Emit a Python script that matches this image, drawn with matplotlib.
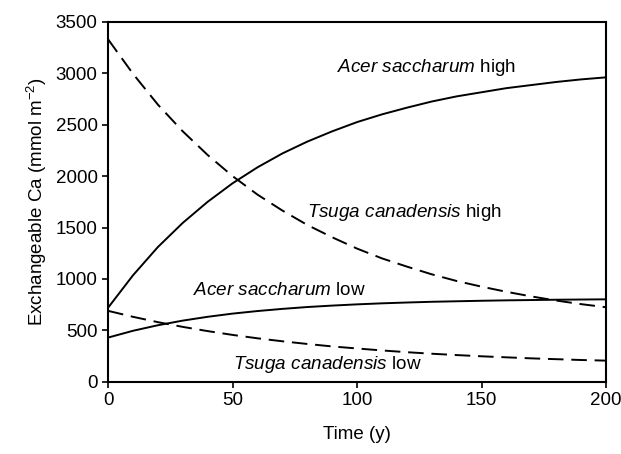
import matplotlib.pyplot as plt

plt.rcParams['font.family'] = ['Liberation Sans', 'DejaVu Sans']
plt.rcParams['mathtext.fontset'] = 'custom'
plt.rcParams['mathtext.rm'] = 'Liberation Sans'
plt.rcParams['mathtext.it'] = 'Liberation Sans:italic'

# Time (years)
t = [0, 10, 20, 30, 40, 50, 60, 70, 80, 90, 100,
     110, 120, 130, 140, 150, 160, 170, 180, 190, 200]

# Exchangeable Ca (mmol m-2)
acer_high = [720, 1035, 1310, 1545, 1750, 1930, 2085, 2220, 2335, 2435, 2525,
             2600, 2665, 2725, 2775, 2815, 2855, 2885, 2915, 2940, 2960]
tsuga_high = [3330, 2995, 2695, 2435, 2205, 2000, 1820, 1665, 1525, 1405, 1295,
              1200, 1120, 1045, 980, 925, 875, 830, 790, 755, 725]
acer_low = [430, 496, 550, 595, 632, 663, 688, 709, 727, 741, 753,
            763, 771, 778, 783, 788, 792, 795, 798, 800, 802]
tsuga_low = [690, 632, 580, 534, 493, 456, 423, 394, 368, 344, 324,
             305, 288, 273, 260, 248, 238, 228, 220, 212, 206]

fig = plt.figure(figsize=(6.21, 4.54), dpi=100)
ax = fig.add_axes([0.174, 0.159, 0.802, 0.793])

dash = (0, (8, 4))
ax.plot(t, acer_high, color='black', lw=1.4)
ax.plot(t, tsuga_high, color='black', lw=1.4, linestyle=dash)
ax.plot(t, acer_low, color='black', lw=1.4)
ax.plot(t, tsuga_low, color='black', lw=1.4, linestyle=dash)

fs = 13.6
ax.text(92, 3060, r'$\it{Acer\ saccharum}$ high', fontsize=fs, va='center')
ax.text(80, 1650, r'$\it{Tsuga\ canadensis}$ high', fontsize=fs, va='center')
ax.text(34, 885, r'$\it{Acer\ saccharum}$ low', fontsize=fs, va='center')
ax.text(50, 165, r'$\it{Tsuga\ canadensis}$ low', fontsize=fs, va='center')

ax.set_xlim(0, 200)
ax.set_ylim(0, 3500)
ax.set_xticks([0, 50, 100, 150, 200])
ax.set_yticks(range(0, 3501, 500))
ax.tick_params(labelsize=13.5, length=4, width=1.2, direction='out')
ax.set_xlabel('Time (y)', fontsize=13.5, labelpad=12)
ax.set_ylabel('Exchangeable Ca (mmol m$^{-2}$)', fontsize=13.5, labelpad=5)
for s in ax.spines.values():
    s.set_linewidth(1.5)

fig.savefig('out.png', dpi=100)
